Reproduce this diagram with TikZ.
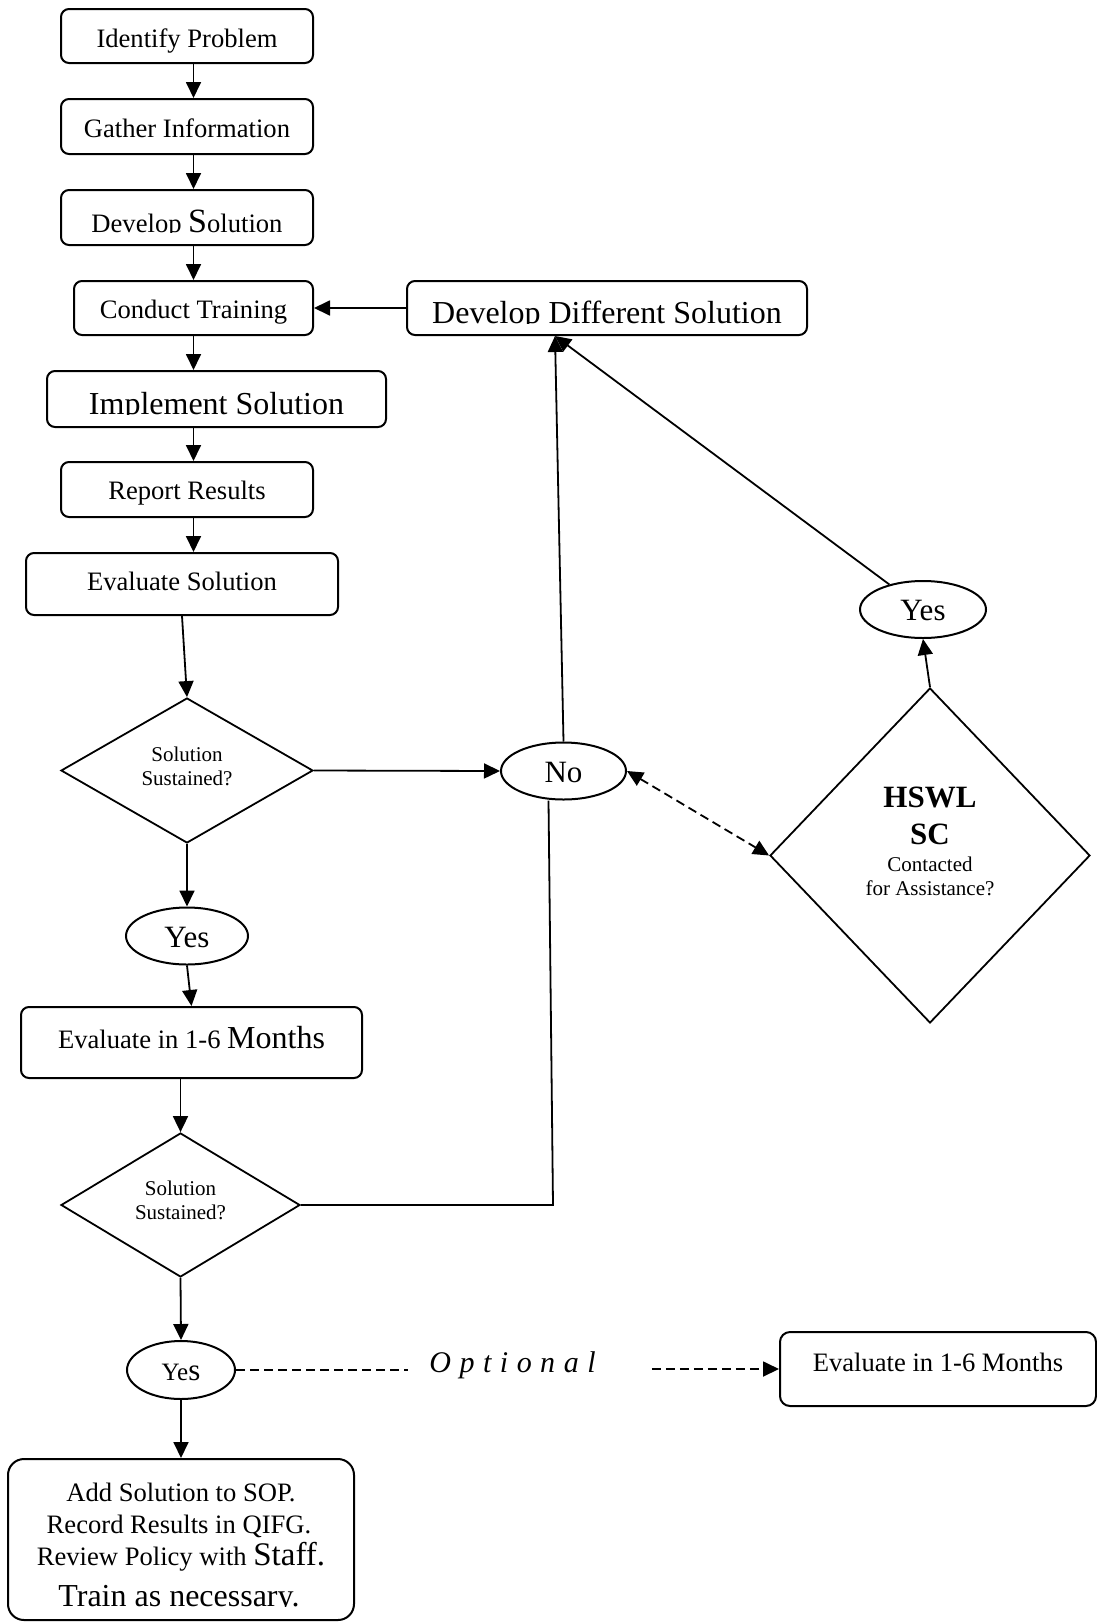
\documentclass[tikz,border=0pt]{standalone}
\usepackage{fontspec}
\setmainfont{Liberation Serif}
\usetikzlibrary{shapes.geometric,arrows.meta,calc}
\newcommand\fsA{\fontsize{26.6pt}{30pt}\selectfont}
\newcommand\fsB{\fontsize{32pt}{36pt}\selectfont}
\newcommand\fsC{\fontsize{21pt}{24pt}\selectfont}
\newcommand\fsD{\fontsize{34pt}{38pt}\selectfont}
\newcommand\fsE{\fontsize{31pt}{36pt}\selectfont}
\begin{document}
\begin{tikzpicture}[x=1pt,y=-1pt,
 box/.style={draw, line width=2pt, rounded corners=8pt, fill=white, inner sep=0pt, font=\fsA},
 dia/.style={draw, diamond, line width=1.8pt, inner sep=0pt, align=center, font=\fsC},
 oval/.style={draw, ellipse, line width=2pt, inner sep=0pt, font=\fsE},
 arr/.style={line width=1.8pt, -{Triangle[length=16pt,width=15pt]}},
 conn/.style={line width=1.8pt},
 dsh/.style={line width=1.8pt, dash pattern=on 9pt off 5pt},
 lbl/.style={anchor=base, inner sep=0pt, minimum width=0pt, minimum height=0pt},
]
\fill[white] (0,0) rectangle (1096,1622);
\useasboundingbox (0,0) rectangle (1096,1622);

% left column boxes
\node[box, minimum width=252pt, minimum height=54pt, text height=22pt, text depth=0pt] (ip) at (187,36) {Identify Problem};
\node[box, minimum width=252pt, minimum height=55pt, text height=21pt, text depth=0pt] (gi) at (187,126.5) {Gather Information};
\node[box, minimum width=252pt, minimum height=55pt,
 path picture={
  \clip ($(path picture bounding box.south west)+(0pt,12.5pt)$) rectangle (path picture bounding box.north east);
  \node[lbl, font=\fsA] (dsT) at ($(path picture bounding box.south)+(0pt,13pt)$) {Develop {\fsD S}olution};
 }] (ds) at (187,217.5) {};
\node[box, minimum width=239pt, minimum height=54pt, text height=20pt, text depth=0pt] (ct) at (193.5,308) {Conduct Training};
\node[box, minimum width=400pt, minimum height=54pt,
 path picture={
  \clip ($(path picture bounding box.south west)+(0pt,11.5pt)$) rectangle (path picture bounding box.north east);
  \node[lbl, font=\fsB] (ddsT) at ($(path picture bounding box.south)+(0pt,12pt)$) {Develop Different Solution};
 }] (dds) at (607,308) {};
\node[box, minimum width=339pt, minimum height=56pt,
 path picture={
  \clip ($(path picture bounding box.south west)+(0pt,12.5pt)$) rectangle (path picture bounding box.north east);
  \node[lbl, font=\fsB] (isT) at ($(path picture bounding box.south)+(0pt,13pt)$) {Implement Solution};
 }] (is) at (216.5,399) {};
\node[box, minimum width=252pt, minimum height=55pt, text height=19pt, text depth=0pt] (rr) at (187,489.5) {Report Results};
\node[box, minimum width=312pt, minimum height=62pt, text height=18pt, text depth=6pt] (es) at (182,584) {Evaluate Solution};

\node[dia, minimum width=252pt, minimum height=145pt] (d1) at (187,770.5) {Solution\\Sustained?\rule[-9pt]{0pt}{9pt}};
\node[oval, minimum width=125pt, minimum height=57pt, text height=23pt, text depth=0pt] (no) at (563.5,771) {No};
\node[oval, minimum width=126pt, minimum height=57pt, text height=22pt, text depth=0pt] (yestr) at (923,609.5) {Yes};
\node[dia, minimum width=320pt, minimum height=335pt] (hswl) at (930,855.5) {{\bfseries\fontsize{31pt}{36pt}\selectfont HSWL}\\[13pt]{\bfseries\fontsize{31pt}{36pt}\selectfont SC}\\[3pt]Contacted\\for Assistance?\rule[-29pt]{0pt}{29pt}};

\node[oval, minimum width=122pt, minimum height=57pt, text height=22pt, text depth=0pt] (y1) at (187,936) {Yes};
\node[box, minimum width=341pt, minimum height=71pt, text height=18pt, text depth=7pt] (e16) at (191.5,1042.5) {Evaluate in 1-6 {\fsB Months}};
\node[dia, minimum width=239pt, minimum height=144pt] (d2) at (180.5,1205) {Solution\\Sustained?\rule[-9pt]{0pt}{9pt}};
\node[oval, minimum width=108pt, minimum height=58pt, text height=20pt, text depth=0pt] (y2) at (181,1370) {{\fontsize{25pt}{30pt}\selectfont Ye}{\fontsize{31pt}{34pt}\selectfont s}};
\node[box, rounded corners=16pt, minimum width=346pt, minimum height=161pt,
 path picture={
  \clip ($(path picture bounding box.south west)+(0pt,13.5pt)$) rectangle (path picture bounding box.north east);
  \node[lbl, font=\fsA] (fT1) at ($(path picture bounding box.south)+(0pt,119pt)$) {Add Solution to SOP.};
  \node[lbl, font=\fsA] (fT2) at ($(path picture bounding box.south)+(-2pt,87pt)$) {Record Results in QIFG.};
  \node[lbl, font=\fsA] (fT3) at ($(path picture bounding box.south)+(0pt,55pt)$) {Review Policy with {\fontsize{33pt}{36pt}\selectfont Staff.}};
  \node[lbl, font=\fsB] (fT4) at ($(path picture bounding box.south)+(-2pt,14pt)$) {Train as necessary.};
 }] (final) at (181,1539.5) {};

\node[lbl, font={\fontsize{30pt}{34pt}\selectfont\itshape}] (opt) at (512.5,1372) {\spaceskip=8.5pt O p t i o n a l};
\node[box, rounded corners=10pt, minimum width=316pt, minimum height=74pt, text height=18pt, text depth=14pt] (e16r) at (938,1369) {Evaluate in 1-6 Months};

% connectors
\draw[arr] (ip.south -| ct) -- (gi.north -| ct);
\draw[arr] (gi.south -| ct) -- (ds.north -| ct);
\draw[arr] (ds.south -| ct) -- (ct.north);
\draw[arr] (ct.south) -- (is.north -| ct);
\draw[arr] (is.south -| ct) -- (rr.north -| ct);
\draw[arr] (rr.south -| ct) -- (es.north -| ct);
\draw[arr] (es.south) -- (d1.north);
\draw[arr] (d1.east) -- (no.west);
\draw[arr] (d1.south) -- (y1.north);
\draw[arr] (y1.south) -- (e16.north);
\draw[arr] (e16.south -| d2) -- (d2.north);
\draw[arr] (d2.south) -- (y2.north);
\draw[arr] (y2.south) -- (final.north);
\draw[arr] (dds.west) -- (ct.east);
\coordinate (ddsin) at ($(dds.south west)+(149,0)$);
\draw[arr] (no.north) -- (ddsin);
\draw[arr] (yestr) -- (ddsin);
\draw[arr] (hswl.north) -- (yestr.south);
\draw[dsh, {Triangle[length=16pt,width=15pt]}-{Triangle[length=16pt,width=15pt]}] (no.east) -- (hswl.west);
\coordinate (c2) at (553,1205);
\draw[conn] (d2.east) -- (c2) -- ($(no.south)+(-15,0)$);
\draw[dsh, shorten >=21pt] (y2.east) -- (y2.east -| opt.west);
\draw[arr, dsh, shorten <=56pt] (e16r.west -| opt.east) -- (e16r.west);
\end{tikzpicture}
\end{document}
